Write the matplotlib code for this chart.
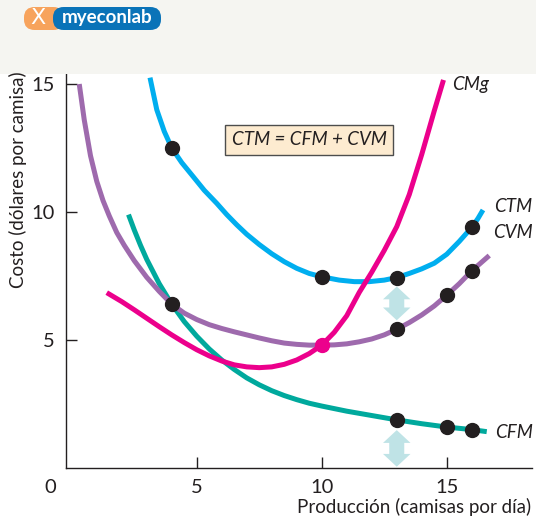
import numpy as np
import matplotlib.pyplot as plt
from matplotlib.patches import FancyBboxPatch, Polygon, Rectangle

# curves (producción, costo)
ctm_x = [3.13, 3.4, 3.7, 4.0, 4.4, 4.86, 5.3, 5.8, 6.2, 6.6, 7.0, 7.5, 8.0, 8.5, 9.0, 9.5, 10.0,
         10.7, 11.3, 11.9, 12.5, 13.0, 13.5, 14.0, 14.5, 15.0, 15.5, 16.0, 16.25, 16.45]
ctm_y = [15.25, 14.0, 13.15, 12.5, 11.93, 11.38, 10.85, 10.34, 9.9, 9.5, 9.13, 8.73, 8.37, 8.06,
         7.8, 7.6, 7.47, 7.34, 7.28, 7.28, 7.34, 7.44, 7.6, 7.78, 8.0, 8.35, 8.85, 9.4, 9.75, 10.08]

cvm_x = [0.3, 0.5, 0.75, 1.0, 1.25, 1.5, 1.8, 2.1, 2.5, 3.0, 3.5, 4.0, 4.5, 5.0, 5.5, 6.0, 6.5,
         7.0, 7.5, 8.0, 8.5, 9.0, 9.5, 10.0, 10.5, 11.0, 11.5, 12.0, 12.5, 13.0, 13.5, 14.0,
         14.5, 15.0, 15.5, 16.0, 16.35, 16.7]
cvm_y = [15.0, 13.6, 12.2, 11.2, 10.45, 9.85, 9.2, 8.7, 8.1, 7.45, 6.9, 6.4, 6.05, 5.8, 5.6, 5.45,
         5.32, 5.2, 5.08, 4.97, 4.88, 4.83, 4.8, 4.8, 4.81, 4.85, 4.93, 5.04, 5.2, 5.42, 5.68,
         5.98, 6.33, 6.75, 7.2, 7.7, 8.0, 8.3]

cmg_x = [1.4, 2.0, 2.5, 3.0, 3.5, 4.0, 4.5, 5.0, 5.5, 6.0, 6.5, 7.0, 7.5, 8.0, 8.5, 9.0, 9.5,
         10.0, 10.5, 11.0, 11.5, 12.0, 12.5, 13.0, 13.5, 14.0, 14.5, 14.87]
cmg_y = [6.85, 6.5, 6.18, 5.85, 5.52, 5.2, 4.9, 4.62, 4.38, 4.18, 4.03, 3.95, 3.92, 3.95, 4.05,
         4.22, 4.47, 4.8, 5.3, 5.95, 6.86, 7.65, 8.5, 9.43, 10.68, 12.25, 13.95, 15.16]

cfm_x = [2.27, 2.5, 2.75, 3.0, 3.5, 4.0, 4.5, 5.0, 5.5, 6.0, 6.5, 7.0, 7.5, 8.0, 8.5, 9.0, 9.5,
         10.0, 11.0, 12.0, 13.0, 14.0, 15.0, 16.0, 16.6]
cfm_y = [9.9, 9.3, 8.7, 8.15, 7.2, 6.4, 5.72, 5.15, 4.65, 4.22, 3.85, 3.52, 3.25, 3.02, 2.83,
         2.67, 2.53, 2.42, 2.22, 2.05, 1.88, 1.73, 1.6, 1.5, 1.42]

# highlighted points
ctm_pts_x = [4, 10, 13, 16]
ctm_pts_y = [12.5, 7.47, 7.44, 9.4]
cvm_pts_x = [4, 10, 13, 15, 16]
cvm_pts_y = [6.4, 4.8, 5.42, 6.75, 7.7]
cfm_pts_x = [13, 15, 16]
cfm_pts_y = [1.88, 1.6, 1.5]

blue = '#00aeef'
purple = '#9e6aad'
magenta = '#ec008c'
teal = '#00a99d'
ink = '#231f20'
arrow_col = '#bfe3e6'

plt.rcParams['font.family'] = ['Lato', 'DejaVu Sans']

fig = plt.figure(figsize=(5.36, 5.22), dpi=100)
fig.patch.set_facecolor('white')

# header band and logo
fig.patches.append(Rectangle((0, 1 - 74 / 522), 1, 74 / 522, transform=fig.transFigure,
                             facecolor='#f5f5f1', edgecolor='none', zorder=0))
fig.patches.append(FancyBboxPatch((24 / 536, 1 - 30 / 522), 40 / 536, 23 / 522,
                                  boxstyle='round,pad=0,rounding_size=0.02',
                                  transform=fig.transFigure, facecolor='#f7a35c',
                                  edgecolor='none', zorder=1))
fig.patches.append(FancyBboxPatch((53 / 536, 1 - 30 / 522), 108 / 536, 23 / 522,
                                  boxstyle='round,pad=0,rounding_size=0.02',
                                  transform=fig.transFigure, facecolor='#0a73b8',
                                  edgecolor='none', zorder=2))
fig.text(38 / 536, 1 - 18.5 / 522, 'X', color='white', fontsize=16, ha='center', va='center',
         family='DejaVu Sans', zorder=3)
fig.text(107 / 536, 1 - 18 / 522, 'myeconlab', color='white', fontsize=13.5, ha='center',
         va='center', fontweight='bold', zorder=3)

ax = fig.add_axes([66 / 536, 1 - 468 / 522, 466 / 536, 396 / 522])
ax.set_xlim(-0.23, 18.41)
ax.set_ylim(0, 15.47)
ax.set_facecolor('white')

lw = 3.6
ax.plot(cfm_x, cfm_y, color=teal, lw=lw, solid_capstyle='butt', solid_joinstyle='round', zorder=2)
ax.plot(cvm_x, cvm_y, color=purple, lw=lw, solid_capstyle='butt', solid_joinstyle='round', zorder=2)
ax.plot(ctm_x, ctm_y, color=blue, lw=lw, solid_capstyle='butt', solid_joinstyle='round', zorder=2)
ax.plot(cmg_x, cmg_y, color=magenta, lw=lw, solid_capstyle='butt', solid_joinstyle='round', zorder=3)

ax.plot(ctm_pts_x, ctm_pts_y, 'o', color=ink, ms=10, zorder=5)
ax.plot(cvm_pts_x[:1] + cvm_pts_x[2:], cvm_pts_y[:1] + cvm_pts_y[2:], 'o', color=ink, ms=10, zorder=5)
ax.plot(cfm_pts_x, cfm_pts_y, 'o', color=ink, ms=10, zorder=5)
# CMg cuts CVM at its minimum
ax.plot(cvm_pts_x[1], cvm_pts_y[1], 'o', color=magenta, ms=10, zorder=5)


def double_arrow(x, y0, y1):
    sw, hw, hl = 0.3, 0.55, 0.5
    pts = [(x, y0), (x + hw, y0 + hl), (x + sw, y0 + hl), (x + sw, y1 - hl),
           (x + hw, y1 - hl), (x, y1), (x - hw, y1 - hl), (x - sw, y1 - hl),
           (x - sw, y0 + hl), (x - hw, y0 + hl)]
    ax.add_patch(Polygon(pts, closed=True, facecolor=arrow_col, edgecolor='none', zorder=1))


double_arrow(13, cvm_pts_y[2] + 0.35, ctm_pts_y[2] - 0.35)
double_arrow(13, 0.05, cfm_pts_y[0] - 0.4)

# curve labels
lab = dict(fontsize=13.5, style='italic', color=ink, va='center', ha='left')
ax.text(15.2, 15.0, 'CMg', **lab)
ax.text(16.9, 10.2, 'CTM', **lab)
ax.text(16.85, 9.2, 'CVM', **lab)
ax.text(16.95, 1.4, 'CFM', **lab)

ax.text(9.49, 12.82, 'CTM = CFM + CVM', fontsize=13.5, style='italic', color=ink,
        ha='center', va='center',
        bbox=dict(boxstyle='square,pad=0.33', facecolor='#fdebd0', edgecolor='#4d4d4d', lw=1))

for s in ['top', 'right']:
    ax.spines[s].set_visible(False)
for s in ['left', 'bottom']:
    ax.spines[s].set_color(ink)
    ax.spines[s].set_linewidth(1)

ax.set_xticks([5, 10, 15])
ax.set_yticks([5, 10, 15])
ax.tick_params(direction='in', length=8, width=1, color=ink, labelsize=14.5,
               labelcolor=ink, pad=8)
ax.text(-0.87, -0.75, '0', fontsize=14.5, color=ink, ha='center', va='center', clip_on=False)

fig.text(18 / 536, 1 - 180 / 522, 'Costo (dólares por camisa)', rotation=90, fontsize=13.5,
         color=ink, ha='center', va='center')
fig.text(531 / 536, 1 - 507 / 522, 'Producción (camisas por día)', fontsize=13.5,
         color=ink, ha='right', va='center')

fig.savefig('out.png', dpi=100)
